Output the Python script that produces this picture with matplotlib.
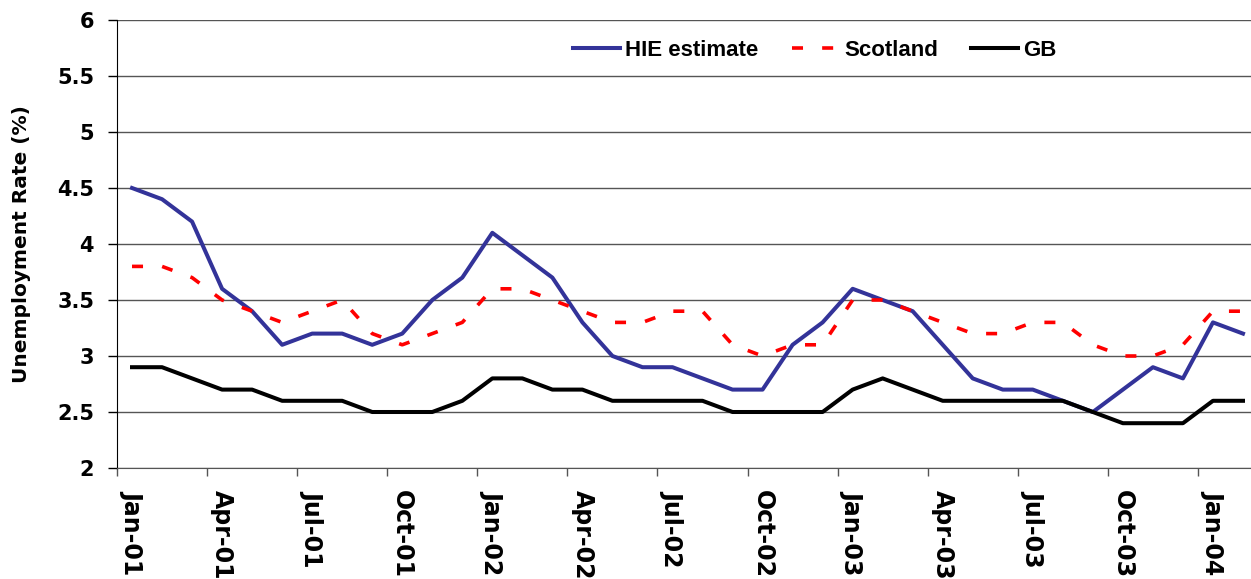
import matplotlib
matplotlib.use("Agg")
import matplotlib.pyplot as plt
from matplotlib.ticker import FixedLocator, FixedFormatter

months = ["Jan-01", "Feb-01", "Mar-01", "Apr-01", "May-01", "Jun-01", "Jul-01", "Aug-01",
          "Sep-01", "Oct-01", "Nov-01", "Dec-01",
          "Jan-02", "Feb-02", "Mar-02", "Apr-02", "May-02", "Jun-02", "Jul-02", "Aug-02",
          "Sep-02", "Oct-02", "Nov-02", "Dec-02",
          "Jan-03", "Feb-03", "Mar-03", "Apr-03", "May-03", "Jun-03", "Jul-03", "Aug-03",
          "Sep-03", "Oct-03", "Nov-03", "Dec-03",
          "Jan-04", "Feb-04"]

hie = [4.5, 4.4, 4.2, 3.6, 3.4, 3.1, 3.2, 3.2, 3.1, 3.2, 3.5, 3.7,
       4.1, 3.9, 3.7, 3.3, 3.0, 2.9, 2.9, 2.8, 2.7, 2.7, 3.1, 3.3,
       3.6, 3.5, 3.4, 3.1, 2.8, 2.7, 2.7, 2.6, 2.5, 2.7, 2.9, 2.8,
       3.3, 3.2]

scotland = [3.8, 3.8, 3.7, 3.5, 3.4, 3.3, 3.4, 3.5, 3.2, 3.1, 3.2, 3.3,
            3.6, 3.6, 3.5, 3.4, 3.3, 3.3, 3.4, 3.4, 3.1, 3.0, 3.1, 3.1,
            3.5, 3.5, 3.4, 3.3, 3.2, 3.2, 3.3, 3.3, 3.1, 3.0, 3.0, 3.1,
            3.4, 3.4]

gb = [2.9, 2.9, 2.8, 2.7, 2.7, 2.6, 2.6, 2.6, 2.5, 2.5, 2.5, 2.6,
      2.8, 2.8, 2.7, 2.7, 2.6, 2.6, 2.6, 2.6, 2.5, 2.5, 2.5, 2.5,
      2.7, 2.8, 2.7, 2.6, 2.6, 2.6, 2.6, 2.6, 2.5, 2.4, 2.4, 2.4,
      2.6, 2.6]

y_ticks = [2, 2.5, 3, 3.5, 4, 4.5, 5, 5.5, 6]
y_ticklabels = ["2", "2.5", "3", "3.5", "4", "4.5", "5", "5.5", "6"]

plt.rcParams['font.family'] = ['DejaVu Sans']

W, H = 1251, 579
fig = plt.figure(figsize=(W / 100, H / 100), dpi=100)
left, right, top, bottom = 117, 1258, 20, 468
ax = fig.add_axes([left / W, 1 - bottom / H, (right - left) / W, (bottom - top) / H])

x = list(range(len(months)))
ax.plot(x, hie, color="#333399", lw=2.9, label="HIE estimate")
ax.plot(x, scotland, color="#ff0000", lw=2.6, dashes=(3.05, 5.3), dash_capstyle="butt",
        label="Scotland")
ax.plot(x, gb, color="#000000", lw=2.9, label="GB")

ax.set_xlim(-0.5, len(months) - 0.5)
ax.set_ylim(2, 6)

ax.set_yticks(y_ticks)
ax.set_yticklabels(y_ticklabels, fontsize=15, fontweight="bold")
ax.yaxis.grid(True, color="#555555", lw=1.0)
ax.set_axisbelow(True)

# x: tick marks at category boundaries every 3 months, labels at category centres
major = [i - 0.5 for i in range(0, len(months) + 1, 3)]
ax.xaxis.set_major_locator(FixedLocator(major))
ax.xaxis.set_major_formatter(FixedFormatter([""] * len(major)))
label_pos = list(range(0, len(months), 3))
ax.xaxis.set_minor_locator(FixedLocator(label_pos))
ax.xaxis.set_minor_formatter(FixedFormatter([months[i] for i in label_pos]))
ax.tick_params(axis="x", which="major", length=5.5, width=1, direction="out", color="#555555")
ax.tick_params(axis="x", which="minor", length=0, pad=16, labelsize=17, labelrotation=270)
for lbl in ax.xaxis.get_minorticklabels():
    lbl.set_fontweight("bold")
    lbl.set_va("top")
    lbl.set_ha("center")
ax.tick_params(axis="y", length=6.5, width=1, direction="out", pad=10)

for s in ["top", "right"]:
    ax.spines[s].set_visible(False)
ax.spines["left"].set_color("#000000")
ax.spines["bottom"].set_color("#555555")

fig.text(22 / W, 1 - 244 / H, "Unemployment Rate (%)", rotation=90, ha="center", va="center",
         fontsize=14.5, fontweight="bold")

leg = ax.legend(loc="center left", bbox_to_anchor=(562 / W, 1 - 50 / H),
                bbox_transform=fig.transFigure, borderpad=0,
                ncol=3, frameon=False, handlelength=2.1, handletextpad=0.25,
                columnspacing=1.5, prop={"family": "Liberation Sans", "weight": "bold", "size": 16})

fig.savefig("out.png", dpi=100, facecolor="white")
